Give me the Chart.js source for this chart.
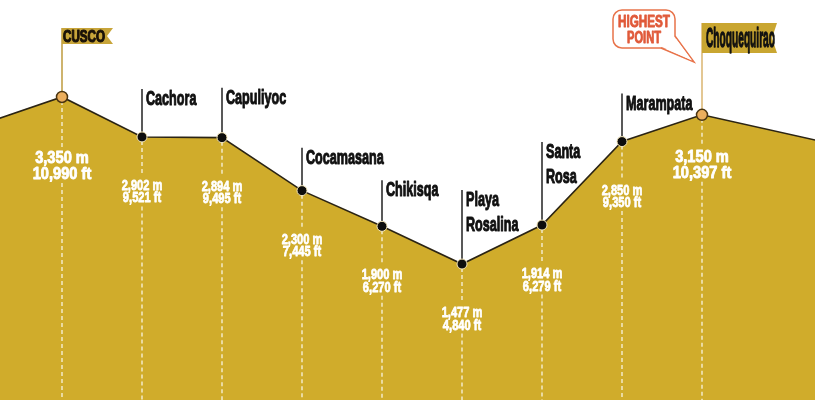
<!DOCTYPE html>
<html>
<head>
<meta charset="utf-8">
<script src="https://cdn.jsdelivr.net/npm/chart.js@4"></script>
<style>
  html, body { margin: 0; padding: 0; background: #ffffff; overflow: hidden; }
  canvas { display: block; }
</style>
</head>
<body>
<canvas id="c" width="815" height="400"></canvas>
<script>
// ---- DATA ----
const stations = ['Cusco', 'Cachora', 'Capuliyoc', 'Cocamasana', 'Chikisqa', ['Playa', 'Rosalina'], ['Santa', 'Rosa'], 'Marampata', 'Choquequirao'];
const elevationM = [3350, 2902, 2894, 2300, 1900, 1477, 1914, 2850, 3150];
const elevationFt = [10990, 9521, 9495, 7445, 6270, 4840, 6279, 9350, 10397];
const trailBefore = 3045;   // profile continuing off the left edge
const trailAfter = 2751;    // profile continuing off the right edge
const flagStations = ['Cusco', 'Choquequirao'];
const highlightText = ['HIGHEST', 'POINT'];

// ---- LAYOUT / STYLE ----
const GOLD = '#D0AC2B';
const valueDy = [66, 53, 53, 53, 53, 53, 53, 53, 47];
const nameDy = [0, 32, 34, 27, 30, 58, 67, 32, 0];

const profile = [{ x: -1, y: trailBefore }]
  .concat(elevationM.map((v, i) => ({ x: i, y: v })))
  .concat([{ x: stations.length + 1, y: trailAfter }]);

const isFlag = i => flagStations.includes([].concat(stations[i]).join(' '));

function ctext(ctx, str, x, y, font, color, sx, align, bold) {
  ctx.save();
  ctx.font = font;
  ctx.fillStyle = color;
  ctx.strokeStyle = color;
  ctx.lineJoin = 'round';
  ctx.textBaseline = 'alphabetic';
  ctx.textAlign = 'left';
  const w = ctx.measureText(str).width * sx;
  const left = align === 'center' ? x - w / 2 : (align === 'right' ? x - w : x);
  ctx.translate(left, y);
  ctx.scale(sx, 1);
  ctx.fillText(str, 0, 0);
  if (bold) { ctx.lineWidth = bold; ctx.strokeText(str, 0, 0); }
  ctx.restore();
  return w;
}
function ctextFit(ctx, str, x, y, font, color, width, align, bold) {
  ctx.save(); ctx.font = font;
  const m = ctx.measureText(str).width;
  ctx.restore();
  return ctext(ctx, str, x, y, font, color, width / m, align, bold);
}

const FONT = '"Liberation Sans", Arial, sans-serif';

const profilePlugin = {
  id: 'profileDecor',
  beforeDatasetsDraw(chart) {
    const ctx = chart.ctx;
    const meta = chart.getDatasetMeta(0);
    const bottom = chart.height;
    elevationM.forEach((v, i) => {
      const pt = meta.data[i + 1];
      const x = pt.x, y = pt.y;
      const big = isFlag(i);
      const b1 = y + valueDy[i];
      const capTop = b1 - (big ? 13 : 11);
      const b2 = b1 + (big ? 16 : 12.5);
      // dashed guide
      ctx.save();
      ctx.strokeStyle = 'rgba(255,255,255,0.85)';
      ctx.lineWidth = 1.3;
      ctx.setLineDash([4, 3]);
      ctx.beginPath();
      ctx.moveTo(x, y + 4); ctx.lineTo(x, capTop - 3);
      ctx.moveTo(x, b2 + 4); ctx.lineTo(x, bottom);
      ctx.stroke();
      ctx.restore();
      // values
      const mTxt = v.toLocaleString('en-US') + ' m';
      const fTxt = elevationFt[i].toLocaleString('en-US') + ' ft';
      if (big) {
        ctext(ctx, mTxt, x, b1, 'bold 17px ' + FONT, '#ffffff', 0.86, 'center', 0.9);
        ctext(ctx, fTxt, x, b2, 'bold 17px ' + FONT, '#ffffff', 0.86, 'center', 0.9);
      } else {
        ctext(ctx, mTxt, x, b1, 'bold 15px ' + FONT, '#ffffff', 0.74, 'center', 0.8);
        ctext(ctx, fTxt, x, b2, 'bold 15px ' + FONT, '#ffffff', 0.74, 'center', 0.8);
      }
      // stems / poles
      ctx.save();
      if (big) {
        ctx.strokeStyle = i === 0 ? '#c2a14a' : '#dcb978';
        ctx.lineWidth = 1.6;
        const top = i === 0 ? 28 : 23;
        ctx.beginPath(); ctx.moveTo(x, y); ctx.lineTo(x, top); ctx.stroke();
      } else {
        const base = y - nameDy[i];
        ctx.strokeStyle = '#222222';
        ctx.lineWidth = 1.5;
        ctx.beginPath(); ctx.moveTo(x, y); ctx.lineTo(x, base - 16); ctx.stroke();
      }
      ctx.restore();
    });
  },
  afterDatasetsDraw(chart) {
    const ctx = chart.ctx;
    const meta = chart.getDatasetMeta(0);
    elevationM.forEach((v, i) => {
      const pt = meta.data[i + 1];
      const x = pt.x, y = pt.y;
      const lines = [].concat(stations[i]);
      if (!isFlag(i)) {
        const base = y - nameDy[i];
        lines.forEach((ln, k) => {
          ctext(ctx, ln, x + 4, base + k * 24.5, 'bold 21px ' + FONT, '#111111', 0.6, 'left', 1.1);
        });
      } else if (i === 0) {
        // small swallowtail flag
        const t = 28, h = 16, w = 51;
        ctx.save();
        ctx.fillStyle = '#C8A53A';
        ctx.beginPath();
        ctx.moveTo(x, t); ctx.lineTo(x + w, t); ctx.lineTo(x + w - 6, t + h / 2);
        ctx.lineTo(x + w, t + h); ctx.lineTo(x, t + h); ctx.closePath(); ctx.fill();
        ctx.restore();
        ctextFit(ctx, lines[0].toUpperCase(), x + 1, t + 14, 'bold 16px ' + FONT, '#1a1208', 42, 'left', 1.2);
      } else {
        const t = 23, h = 30, w = 75;
        ctx.save();
        ctx.fillStyle = '#C9A631';
        ctx.beginPath();
        ctx.moveTo(x, t); ctx.lineTo(x + w, t); ctx.lineTo(x + w - 5, t + h / 2);
        ctx.lineTo(x + w, t + h); ctx.lineTo(x, t + h); ctx.closePath(); ctx.fill();
        ctx.restore();
        ctextFit(ctx, lines[0], x + 4, t + 24, 'bold 27px ' + FONT, '#111111', 69, 'left', 1.3);
        // speech bubble
        const bx = 613, by = 10, bw = 62, bh = 38;
        ctx.save();
        ctx.strokeStyle = '#E8734A';
        ctx.fillStyle = '#ffffff';
        ctx.lineWidth = 1.5;
        ctx.beginPath();
        ctx.roundRect(bx, by, bw, bh, 9);
        ctx.fill(); ctx.stroke();
        ctx.beginPath();
        ctx.moveTo(bx + bw - 14, by + bh);
        ctx.lineTo(x - 8, 62);
        ctx.lineTo(bx + bw, by + bh - 12);
        ctx.stroke();
        ctx.beginPath();
        ctx.moveTo(bx + bw - 13.5, by + bh - 1.2);
        ctx.lineTo(x - 10, 60.5);
        ctx.lineTo(bx + bw - 1.2, by + bh - 12);
        ctx.closePath(); ctx.fill();
        ctx.restore();
        ctextFit(ctx, highlightText[0], bx + bw / 2, 27, 'bold 16px ' + FONT, '#E05A3A', 52, 'center', 0.9);
        ctextFit(ctx, highlightText[1], bx + bw / 2, 43, 'bold 16px ' + FONT, '#E05A3A', 34, 'center', 0.9);
      }
    });
  }
};

const n = profile.length;
new Chart(document.getElementById('c'), {
  type: 'line',
  data: {
    datasets: [{
      data: profile,
      borderColor: '#2b2414',
      borderWidth: 1.6,
      backgroundColor: GOLD,
      fill: 'start',
      tension: 0,
      pointRadius: profile.map((p, k) => (k === 0 || k === n - 1) ? 0 : (isFlag(k - 1) ? 5.5 : 5)),
      pointBackgroundColor: profile.map((p, k) => (k > 0 && k < n - 1 && isFlag(k - 1)) ? '#EBAE5C' : '#0d0d0d'),
      pointBorderColor: profile.map((p, k) => (k > 0 && k < n - 1 && isFlag(k - 1)) ? '#4a3410' : '#f4e6b8'),
      pointBorderWidth: profile.map((p, k) => (k > 0 && k < n - 1 && isFlag(k - 1)) ? 1.5 : 1),
    }]
  },
  options: {
    responsive: false,
    animation: false,
    layout: { padding: 0 },
    scales: {
      x: { type: 'linear', min: -0.775, max: 9.4125, display: false },
      y: { min: -47, max: 4437, display: false }
    },
    plugins: {
      legend: { display: false },
      tooltip: { enabled: false },
      filler: { drawTime: 'beforeDraw' }
    }
  },
  plugins: [profilePlugin]
});
</script>
</body>
</html>
